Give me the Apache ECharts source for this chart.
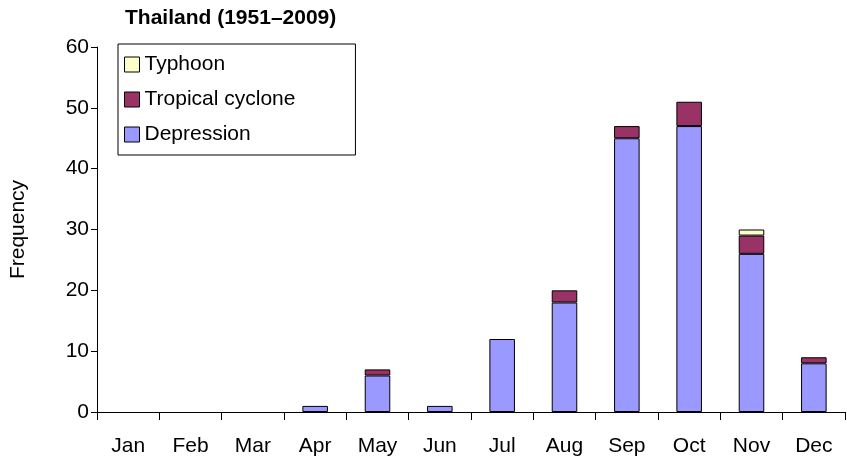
<!DOCTYPE html>
<html><head><meta charset="utf-8">
<script src="https://cdn.jsdelivr.net/npm/echarts@6/dist/echarts.min.js"></script>
<style>html,body{margin:0;padding:0;background:#fff}#c{width:847px;height:462px}</style>
</head><body><div id="c"></div>
<script>
const months = ['Jan','Feb','Mar','Apr','May','Jun','Jul','Aug','Sep','Oct','Nov','Dec'];
const depression = [0,0,0,1,6,1,12,18,45,47,26,8];
const tropicalCyclone = [0,0,0,0,1,0,0,2,2,4,3,1];
const typhoon = [0,0,0,0,0,0,0,0,0,0,1,0];
const yTicks = [0,10,20,30,40,50,60];
const font = 'Liberation Sans, Arial, sans-serif';
const chart = echarts.init(document.getElementById('c'));
const mk = (name, data, color) => ({name, type:'bar', stack:'a', data:data.map(v=>v===0?null:v), barWidth:'41%',
  itemStyle:{color, borderColor:'#000', borderWidth:1}});
chart.setOption({
  animation:false,
  title:{text:'Thailand (1951–2009)', left:120, top:3, textStyle:{fontFamily:font, fontSize:21, fontWeight:'bold', color:'#000'}},
  legend:{orient:'vertical', left:118, top:44, width:215, data:['Typhoon','Tropical cyclone','Depression'],
    icon:'rect', borderColor:'#000', borderWidth:1, padding:[10,60,10,6], itemGap:14, itemWidth:15, itemHeight:15,
    textStyle:{fontFamily:font, fontSize:21, color:'#000'}, backgroundColor:'#fff',
    itemStyle:{borderColor:'#000', borderWidth:1}},
  grid:{left:87, right:2, top:47, bottom:50},
  xAxis:{type:'category', data:months, axisLine:{lineStyle:{color:'#000'}},
    axisTick:{show:true, length:8, lineStyle:{color:'#000'}},
    axisLabel:{fontFamily:font, fontSize:21, color:'#000', margin:24}},
  yAxis:{type:'value', min:0, max:60, interval:10, name:'Frequency', nameLocation:'middle', nameGap:68,
    nameTextStyle:{fontFamily:font, fontSize:21, color:'#000'},
    axisLine:{show:true, lineStyle:{color:'#000'}}, axisTick:{show:true, length:6, lineStyle:{color:'#000'}},
    splitLine:{show:false},
    axisLabel:{fontFamily:font, fontSize:21, color:'#000', formatter:v=>yTicks.includes(v)?v:''}},
  series:[mk('Depression',depression,'#9999ff'), mk('Tropical cyclone',tropicalCyclone,'#993366'), mk('Typhoon',typhoon,'#ffffcc')]
});
</script></body></html>
